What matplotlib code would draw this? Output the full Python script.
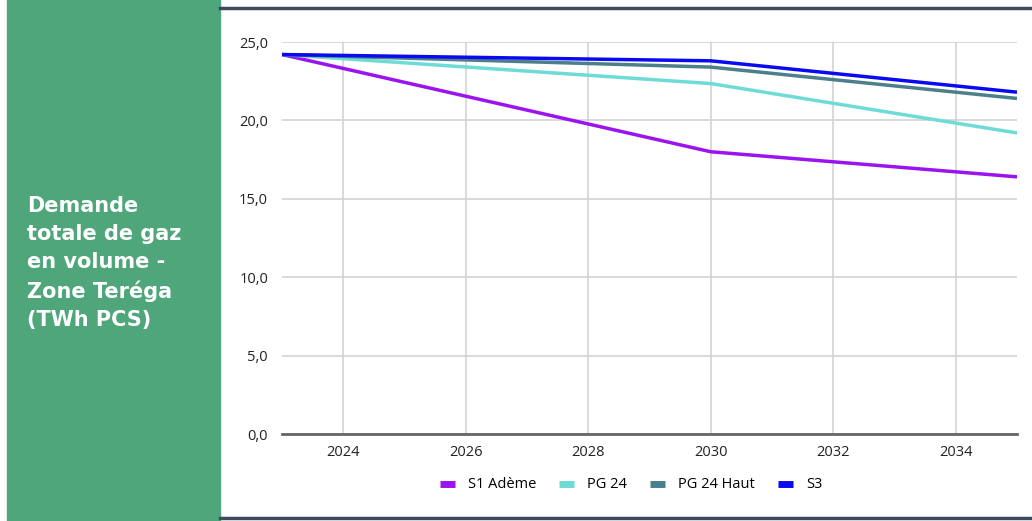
import matplotlib.pyplot as plt
from matplotlib.patches import Rectangle
from matplotlib.lines import Line2D
from matplotlib.ticker import FuncFormatter

years = [2023, 2030, 2035]
s1_ademe = [24.2, 18.0, 16.4]
pg24 = [24.2, 22.35, 19.2]
pg24_haut = [24.2, 23.4, 21.4]
s3 = [24.2, 23.8, 21.8]

series = [
    ("S1 Adème", s1_ademe, "#9b14f0"),
    ("PG 24", pg24, "#6edbd6"),
    ("PG 24 Haut", pg24_haut, "#4a7f8b"),
    ("S3", s3, "#0a0af0"),
]

fig = plt.figure(figsize=(10.32, 5.21), dpi=100)

# green title panel
fig.patches.append(Rectangle((7 / 1032, 0), 213 / 1032, 1, transform=fig.transFigure,
                             color="#4ea67a", zorder=0))
fig.text(27 / 1032, 1 - 196 / 521, "Demande\ntotale de gaz\nen volume -\nZone Teréga\n(TWh PCS)",
         color="white", fontsize=15, fontweight="bold", family="DejaVu Sans",
         va="top", ha="left", linespacing=1.5)

# dark rules top and bottom
fig.add_artist(Line2D([220 / 1032, 1], [1 - 8 / 521] * 2, transform=fig.transFigure,
                      color="#3e4a5e", lw=2.5))
fig.add_artist(Line2D([220 / 1032, 1], [1 - 518 / 521] * 2, transform=fig.transFigure,
                      color="#3e4a5e", lw=2.5))

ax = fig.add_axes([282 / 1032, 1 - 434 / 521, 735 / 1032, 392 / 521])
for name, vals, col in series:
    ax.plot(years, vals, color=col, lw=2.5, label=name, solid_capstyle="butt")

ax.set_xlim(2023, 2035)
ax.set_ylim(0, 25)
ax.set_xticks(range(2024, 2036, 2))
ax.set_yticks([0, 5, 10, 15, 20, 25])
ax.yaxis.set_major_formatter(FuncFormatter(lambda v, p: f"{v:.1f}".replace(".", ",")))
ax.grid(True, color="#d3d3d3", lw=1.2)
ax.set_axisbelow(True)
for s in ["top", "right", "left"]:
    ax.spines[s].set_visible(False)
ax.spines["bottom"].set_color("#666666")
ax.spines["bottom"].set_linewidth(2)
ax.spines["bottom"].set_zorder(5)
ax.tick_params(length=0, labelsize=10.5, colors="#222222", pad=8)
ax.tick_params(axis="y", pad=10)
for lab in ax.get_xticklabels() + ax.get_yticklabels():
    lab.set_family("Open Sans")

leg = ax.legend(loc="center", bbox_to_anchor=(0.475, -0.13), ncol=4, frameon=False,
                handlelength=1.0, handleheight=0.3, columnspacing=1.6, handletextpad=0.9,
                prop={"family": "Open Sans", "size": 10.5})
for h in leg.get_lines():
    h.set_linewidth(5)

fig.savefig("out.png", dpi=100)
